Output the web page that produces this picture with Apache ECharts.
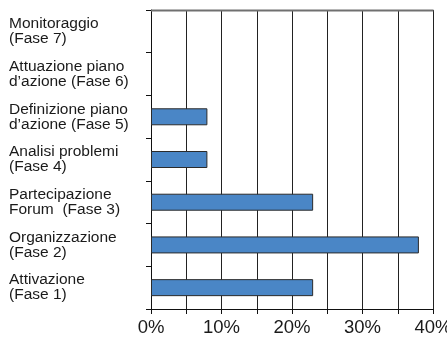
<!DOCTYPE html>
<html>
<head>
<meta charset="utf-8">
<script src="https://cdn.jsdelivr.net/npm/echarts@6/dist/echarts.min.js"></script>
<style>html,body{margin:0;padding:0;background:#fff}#c{width:447px;height:338px}</style>
</head>
<body>
<div id="c"></div>
<script>
const categories = [
  "Attivazione\n(Fase 1)",
  "Organizzazione\n(Fase 2)",
  "Partecipazione\nForum  (Fase 3)",
  "Analisi problemi\n(Fase 4)",
  "Definizione piano\nd\u2019azione (Fase 5)",
  "Attuazione piano\nd\u2019azione (Fase 6)",
  "Monitoraggio\n(Fase 7)"
];
const values = [23, 38, 23, 8, 8, 0, 0];
const xTicks = [0, 10, 20, 30, 40];

const GRID = { left: 151, right: 14, top: 10, bottom: 29 };
const chart = echarts.init(document.getElementById('c'));
chart.setOption({
  animation: false,
  grid: Object.assign({ containLabel: false, outerBoundsMode: 'none' }, GRID),
  xAxis: [{
    type: 'value', min: 0, max: 40, interval: 5,
    axisLine: { show: true, onZero: false, lineStyle: { color: '#111', width: 1 } },
    axisTick: { show: true, length: 5, lineStyle: { color: '#111' } },
    splitLine: { show: true, lineStyle: { color: '#222', width: 1 } },
    axisLabel: {
      margin: 9, fontFamily: 'Liberation Sans', fontSize: 18.5, color: '#1a1a1a',
      showMaxLabel: true, showMinLabel: true,
      formatter: v => xTicks.includes(v) ? v + '%' : ''
    }
  }],
  yAxis: {
    type: 'category', data: categories,
    axisLine: { show: true, onZero: false, lineStyle: { color: '#111', width: 1 } },
    axisTick: { show: true, length: 5, inside: false, lineStyle: { color: '#111' } },
    axisLabel: {
      align: 'left', margin: 142, fontFamily: 'Liberation Sans', fontSize: 15.5,
      lineHeight: 15, color: '#1a1a1a', verticalAlign: 'middle', padding: [0, 0, 4, 0]
    }
  },
  series: [{
    type: 'bar', barWidth: 17,
    data: values.map(v => v === 0 ? { value: v, itemStyle: { borderWidth: 0 } } : v),
    itemStyle: { color: '#4a86c6', borderColor: '#2b2b2b', borderWidth: 1 }
  }]
});
// top frame line of the plot area, placed from the axis scale
const x0 = chart.convertToPixel({ xAxisIndex: 0 }, 0);
const x1 = chart.convertToPixel({ xAxisIndex: 0 }, 40);
chart.setOption({
  graphic: {
    elements: [{
      type: 'line', z: 100, silent: true,
      shape: { x1: x0, y1: GRID.top + 0.5, x2: x1 + 0.5, y2: GRID.top + 0.5 },
      style: { stroke: '#707070', lineWidth: 2 }
    }]
  }
});
</script>
</body>
</html>
